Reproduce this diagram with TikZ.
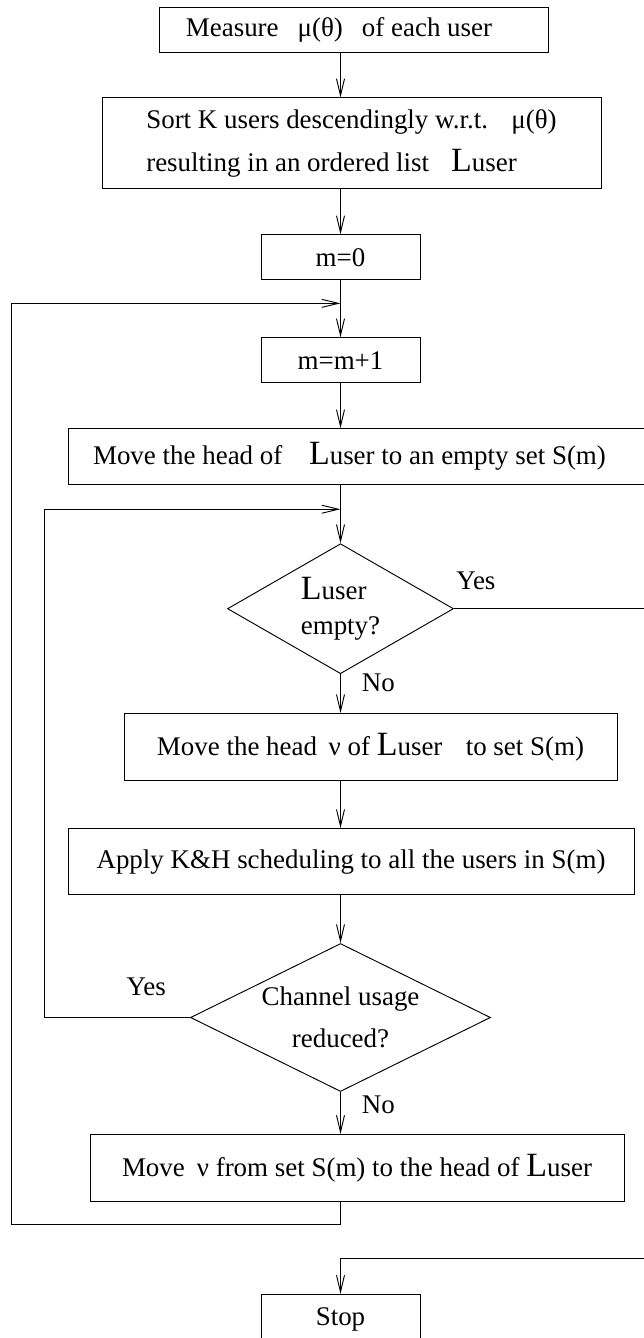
\documentclass[tikz,border=0pt]{standalone}
\usepackage{fontspec}
\setmainfont{Liberation Serif}
\usepackage{tikz}
\usetikzlibrary{shapes.geometric, arrows.meta, positioning}
\newcommand{\Luser}{{\fontsize{29}{29}\selectfont L}user}
\tikzstyle{process} = [rectangle, minimum height=1.35cm, text centered, draw=black, inner sep=2pt]
\tikzstyle{decision} = [diamond, text centered, draw=black, inner sep=0pt]
\tikzstyle{answer} = [inner sep=2pt]
\tikzstyle{arrow} = [->, >={Straight Barb[length=0.5cm,width=0.24cm]}]

\begin{document}
\begin{tikzpicture}[line width=0.8pt, font=\fontsize{23}{28}\selectfont]
	\useasboundingbox (0,0) rectangle (19.32,-40.14);
	\node (measure) [process, minimum width=11.67cm] at (10.605,-0.885) {Measure\hspace{0.57cm}μ(θ)\hspace{0.57cm}of each user\rule{0.87cm}{0pt}};
	\node (sort) [process, minimum width=14.97cm, minimum height=2.73cm, align=left, font=\fontsize{23}{36.7}\selectfont, below=1.35cm of measure, xshift=-0.06cm] {\rule{0pt}{0.35cm}Sort K users descendingly w.r.t.\hspace{0.7cm}μ(θ)\\resulting in an ordered list\hspace{0.66cm}\Luser};
	\node (mzero) [process, minimum width=4.77cm, below=1.35cm of sort, xshift=-0.33cm] {m=0};
	\node (mincr) [process, minimum width=4.77cm, below=1.71cm of mzero] {m=m+1};
	\node (movehead) [process, minimum width=17.34cm, minimum height=1.68cm, below=1.35cm of mincr, xshift=0.495cm] {Move the head of\hspace{0.8cm}\Luser\ to an empty set S(m)\rule{0.45cm}{0pt}};
	\node (empty) [decision, minimum width=6.78cm, minimum height=3.9cm, aspect=1.74, align=left, font=\fontsize{23}{30}\selectfont, below=1.74cm of movehead, xshift=-0.495cm] {\Luser\\empty?};
	\node (movenu) [process, minimum width=14.79cm, minimum height=2.01cm, below=1.17cm of empty, xshift=0.9cm] {Move the head\hspace{0.35cm}ν of \Luser\hspace{0.7cm}to set S(m)};
	\node (apply) [process, minimum width=16.98cm, minimum height=1.98cm, below=1.41cm of movenu, xshift=-0.585cm] {Apply K\&H scheduling to all the users in S(m)};
	\node (reduced) [decision, minimum width=9cm, minimum height=4.44cm, aspect=2.03, align=center, font=\fontsize{23}{36}\selectfont, below=1.44cm of apply, xshift=-0.315cm] {Channel usage\\reduced?};
	\node (movenu2) [process, minimum width=16.02cm, minimum height=2.01cm, below=1.26cm of reduced, xshift=0.495cm] {Move\hspace{0.36cm}ν from set S(m) to the head of \Luser};
	\node (stop) [process, minimum width=4.77cm, minimum height=1.5cm, below=2.76cm of movenu2, xshift=-0.495cm] {Stop};

	%points where the loops come back
	\coordinate [yshift=-0.69cm] (join1) at (mzero.south);
	\coordinate [yshift=-0.72cm] (join2) at (movehead.south -| mzero);
	\coordinate [yshift=-0.69cm] (back) at (movenu2.south -| mzero);
	\coordinate (outer) at (0.33,0);
	\coordinate (inner) at (1.32,0);
	\coordinate (rightedge) at (19.38,0);

	\draw [arrow] (measure.south -| mzero) -- (sort.north -| mzero);
	\draw [arrow] (sort.south -| mzero) -- (mzero);
	\draw [arrow] (mzero) -- (mincr);
	\draw [arrow] (mincr) -- (movehead.north -| mincr);
	\draw [arrow] (movehead.south -| mincr) -- (empty);
	\draw [arrow] (empty) -- node[answer, pos=0.23, right=0.56cm] {No} (movenu.north -| empty);
	\draw [arrow] (movenu.south -| empty) -- (apply.north -| empty);
	\draw [arrow] (apply.south -| empty) -- (reduced);
	\draw [arrow] (reduced) -- node[answer, pos=0.31, right=0.56cm] {No} (movenu2.north -| reduced);
	\draw [arrow] (empty.east) -- node[answer, pos=0.114, above=0.47cm] {Yes} (rightedge |- empty) |- ([yshift=1.05cm]stop.north) -- (stop);
	\draw [arrow] (reduced.west) -- node[answer, pos=0.3, above=0.56cm] {Yes} (inner |- reduced) |- (join2);
	\draw [arrow] (movenu2.south -| mzero) -- (back) -| (outer |- join1) -- (join1);
\end{tikzpicture}
\end{document}
